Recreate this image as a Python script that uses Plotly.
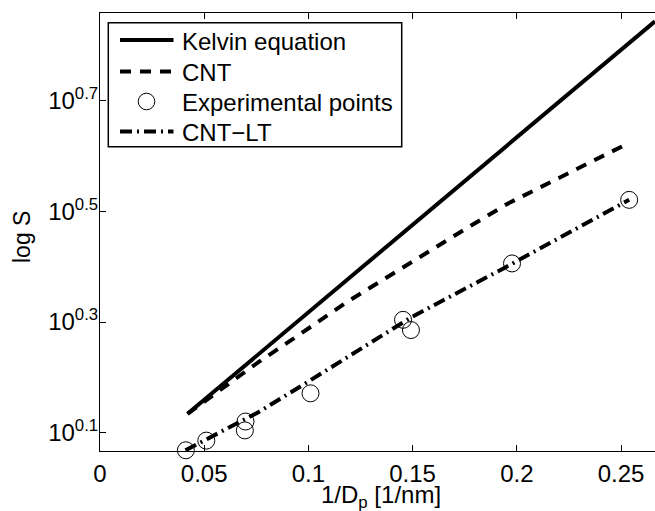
import plotly.graph_objects as go

# ---- data (y values are log10 S exponents) ----
kelvin_x = [0.042, 0.2663]
kelvin_logS = [0.134, 0.844]

cnt_x = [0.042, 0.0594, 0.0762, 0.093, 0.1186, 0.1785, 0.196, 0.2536]
cnt_logS = [0.134, 0.1826, 0.2279, 0.2703, 0.3366, 0.4755, 0.5149, 0.6236]

exp_x = [0.0412, 0.0510, 0.0698, 0.0695, 0.1010, 0.1454, 0.1492, 0.1977, 0.2539]
exp_logS = [0.068, 0.0855, 0.120, 0.104, 0.171, 0.304, 0.2855, 0.406, 0.521]

cntlt_x = [0.041, 0.0762, 0.0977, 0.1497, 0.1936, 0.2539]
cntlt_logS = [0.068, 0.1373, 0.187, 0.3094, 0.397, 0.521]

x_ticks = [0, 0.05, 0.1, 0.15, 0.2, 0.25]
x_ticklabels = ["0", "0.05", "0.1", "0.15", "0.2", "0.25"]
y_tick_exps = [0.1, 0.3, 0.5, 0.7]
y_ticklabels = ["10<sup>0.1</sup>", "10<sup>0.3</sup>", "10<sup>0.5</sup>", "10<sup>0.7</sup>"]

legend_names = ["Kelvin equation", "CNT", "Experimental points", "CNT\u2212LT"]

FONT = "Liberation Sans, Arial, Helvetica, sans-serif"

# plot area in pixels
W, H = 655, 511
ML, MR, MT, MB = 100, 0, 13, 60
PW, PH = W - ML - MR, H - MT - MB


def pw(vals):
    return [10 ** v for v in vals]


def px(xp):
    return (xp - ML) / PW


def py(yp):
    return (H - MB - yp) / PH


STYLE = {
    "Kelvin equation": dict(color="black", width=4),
    "CNT": dict(color="black", width=4, dash="11px,9px"),
    "CNT\u2212LT": dict(color="black", width=4, dash="12px,5px,2px,5px"),
}

fig = go.Figure()
fig.add_trace(go.Scatter(x=kelvin_x, y=pw(kelvin_logS), mode="lines", name=legend_names[0],
                         line=STYLE[legend_names[0]]))
fig.add_trace(go.Scatter(x=cnt_x, y=pw(cnt_logS), mode="lines", name=legend_names[1],
                         line=STYLE[legend_names[1]]))
fig.add_trace(go.Scatter(x=exp_x, y=pw(exp_logS), mode="markers", name=legend_names[2],
                         marker=dict(symbol="circle-open", size=17, color="black",
                                     line=dict(width=1, color="black")),
                         cliponaxis=False))
fig.add_trace(go.Scatter(x=cntlt_x, y=pw(cntlt_logS), mode="lines", name=legend_names[3],
                         line=STYLE[legend_names[3]]))

# ---- legend box (drawn to match the reference's long line samples) ----
shapes = [dict(type="rect", xref="paper", yref="paper",
               x0=px(108.3), x1=px(401.7), y0=py(146.7), y1=py(22.7),
               line=dict(color="black", width=1.5), fillcolor="white", layer="above")]
annotations = []
row_y = [40, 71.5, 101.5, 131.5]
for name, ry in zip(legend_names, row_y):
    if name in STYLE:
        shapes.append(dict(type="line", xref="paper", yref="paper",
                           x0=px(120), x1=px(173.5), y0=py(ry), y1=py(ry),
                           line=STYLE[name], layer="above"))
    else:
        r = 8.3
        shapes.append(dict(type="circle", xref="paper", yref="paper",
                           x0=px(146.5 - r), x1=px(146.5 + r), y0=py(ry + r), y1=py(ry - r),
                           line=dict(color="black", width=1), layer="above"))
    annotations.append(dict(text=name, xref="paper", yref="paper", x=px(180), y=py(ry + 1),
                            xanchor="left", yanchor="middle", showarrow=False,
                            font=dict(family=FONT, size=24, color="black")))

# axis titles
annotations.append(dict(text="1/D<sub>p</sub> [1/nm]", xref="paper", yref="paper",
                        x=px(381), y=py(496), xanchor="center", yanchor="middle",
                        showarrow=False, font=dict(family=FONT, size=24, color="black")))
annotations.append(dict(text="log S", xref="paper", yref="paper", textangle=-90,
                        x=px(22), y=py(237), xanchor="center", yanchor="middle",
                        showarrow=False, font=dict(family=FONT, size=23, color="black")))

fig.update_layout(
    width=W, height=H,
    margin=dict(l=ML, r=MR, t=MT, b=MB),
    paper_bgcolor="white", plot_bgcolor="white",
    font=dict(family=FONT, size=24, color="black"),
    showlegend=False,
    shapes=shapes, annotations=annotations,
    xaxis=dict(range=[0, 0.2663], tickvals=x_ticks, ticktext=x_ticklabels, automargin=False,
               showgrid=False, zeroline=False, showline=True, linecolor="black", linewidth=1,
               mirror="ticks", ticks="inside", ticklen=6, tickcolor="black", tickwidth=1,
               tickfont=dict(size=24), ticklabelstandoff=1),
    yaxis=dict(type="log", range=[0.0667, 0.859], tickvals=pw(y_tick_exps), ticktext=y_ticklabels,
               automargin=False,
               showgrid=False, zeroline=False, showline=True, linecolor="black", linewidth=1,
               mirror=False, ticks="inside", ticklen=6, tickcolor="black", tickwidth=1,
               tickfont=dict(size=24)),
)

try:
    fig.layout.yaxis.ticklabelstandoff = -4
except Exception:
    pass

fig.write_html(
    "out.html",
    config={"displayModeBar": False},
    post_script="document.body.style.margin='0';document.body.style.overflow='hidden';",
)
